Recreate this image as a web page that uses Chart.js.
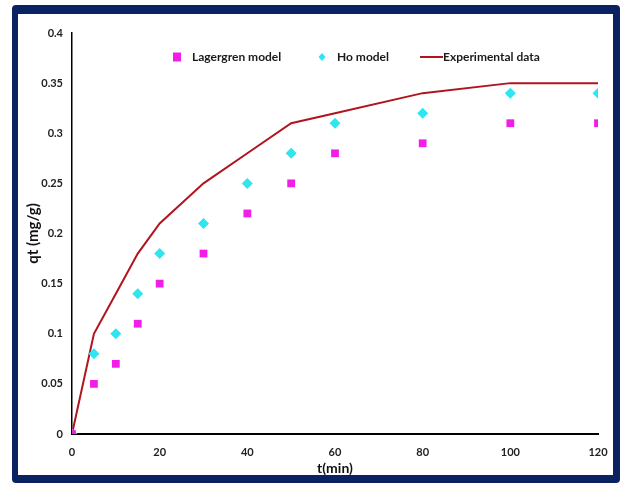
<!DOCTYPE html>
<html>
<head>
<meta charset="utf-8">
<script src="https://cdn.jsdelivr.net/npm/chart.js@4"></script>
<style>
html,body{margin:0;padding:0;background:#fff;}
#wrap{position:relative;width:624px;height:485px;overflow:hidden;}
#frame{position:absolute;left:12px;top:5px;width:595px;height:461px;border-style:solid;border-color:#0b2262;border-width:9px 7px 8px 6px;border-radius:4px;background:#fff;}
#c{position:absolute;left:0;top:0;}
</style>
</head>
<body>
<div id="wrap">
<div id="frame"></div>
<canvas id="c" width="624" height="485"></canvas>
</div>
<script>
const times = [0, 5, 10, 15, 20, 30, 40, 50, 60, 80, 100, 120];
const lagergren = [0, 0.05, 0.07, 0.11, 0.15, 0.18, 0.22, 0.25, 0.28, 0.29, 0.31, 0.31];
const hoModel = [0, 0.08, 0.10, 0.14, 0.18, 0.21, 0.25, 0.28, 0.31, 0.32, 0.34, 0.34];
const experimental = [0, 0.10, 0.14, 0.18, 0.21, 0.25, 0.28, 0.31, 0.32, 0.34, 0.35, 0.35];
const seriesNames = ['Lagergren model', 'Ho model', 'Experimental data'];
const xTickLabels = ['0', '20', '40', '60', '80', '100', '120'];
const yTickLabels = ['0', '0.05', '0.1', '0.15', '0.2', '0.25', '0.3', '0.35', '0.4'];
const xTitle = 't(min)';
const yTitle = 'qt (mg/g)';

const FONT = "Lato, 'Open Sans', sans-serif";
const pts = arr => times.map((t, i) => ({x: t, y: arr[i]}));

const legendPlugin = {
  id: 'insideLegend',
  afterDraw(chart) {
    const ctx = chart.ctx;
    const y = 57;
    const items = [
      {ds: 0, mx: 177, tx: 192},
      {ds: 1, mx: 322, tx: 337},
      {ds: 2, mx: 431, tx: 443}
    ];
    ctx.save();
    ctx.font = "bold 12px " + FONT;
    ctx.textBaseline = 'middle';
    items.forEach(it => {
      const ds = chart.data.datasets[it.ds];
      if (ds.showLine) {
        ctx.strokeStyle = ds.borderColor;
        ctx.lineWidth = 2;
        ctx.beginPath();
        ctx.moveTo(it.mx - 11, y);
        ctx.lineTo(it.tx, y);
        ctx.stroke();
      } else {
        ctx.fillStyle = ds.backgroundColor;
        ctx.beginPath();
        if (ds.pointStyle === 'rect') {
          ctx.rect(it.mx - 4, y - 4.5, 8, 9);
        } else {
          ctx.moveTo(it.mx, y - 4); ctx.lineTo(it.mx + 3.5, y); ctx.lineTo(it.mx, y + 4); ctx.lineTo(it.mx - 3.5, y); ctx.closePath();
        }
        ctx.fill();
      }
      ctx.fillStyle = '#1a1a1a';
      ctx.fillText(seriesNames[it.ds], it.tx, y);
    });
    ctx.restore();
  }
};

new Chart(document.getElementById('c'), {
  type: 'scatter',
  data: {
    datasets: [
      {
        label: seriesNames[0], data: pts(lagergren), pointStyle: 'rect', pointRadius: 5.5,
        backgroundColor: '#f01ee6', borderColor: '#f01ee6', borderWidth: 0, showLine: false
      },
      {
        label: seriesNames[1], data: pts(hoModel), pointStyle: 'rectRot', pointRadius: 5.5,
        backgroundColor: '#2ee6f0', borderColor: '#2ee6f0', borderWidth: 0, showLine: false
      },
      {
        label: seriesNames[2], data: pts(experimental), showLine: true, pointRadius: 0,
        borderColor: '#b0141e', backgroundColor: '#b0141e', borderWidth: 2, tension: 0, order: 3
      }
    ]
  },
  options: {
    responsive: false,
    animation: false,
    devicePixelRatio: 1,
    layout: {padding: {left: 0, top: 33, right: 26, bottom: 0}},
    plugins: {legend: {display: false}, tooltip: {enabled: false}},
    scales: {
      x: {
        type: 'linear', min: 0, max: 120,
        grid: {display: false, drawTicks: false},
        border: {display: true, color: '#000', width: 2},
        ticks: {stepSize: 20, padding: 12, color: '#222', font: {family: FONT, size: 11, weight: 'bold'},
          callback: (v) => { const i = v / 20; return Number.isInteger(i) ? xTickLabels[i] : ''; }},
        title: {display: true, text: xTitle, color: '#111', font: {family: FONT, size: 14, weight: 'bold'}, padding: {top: 0, bottom: 8}},
        afterFit: s => { s.height = 51; }
      },
      y: {
        type: 'linear', min: 0, max: 0.4,
        grid: {display: false, drawTicks: false},
        border: {display: true, color: '#000', width: 1.5},
        ticks: {stepSize: 0.05, padding: 9, color: '#222', font: {family: FONT, size: 11, weight: 'bold'},
          callback: (v) => { const i = Math.round(v / 0.05); return yTickLabels[i]; }},
        title: {display: true, text: yTitle, color: '#111', font: {family: FONT, size: 15, weight: 'bold'}, padding: {top: 24, bottom: 0}},
        afterFit: s => { s.width = 72; }
      }
    }
  },
  plugins: [legendPlugin]
});
</script>
</body>
</html>
